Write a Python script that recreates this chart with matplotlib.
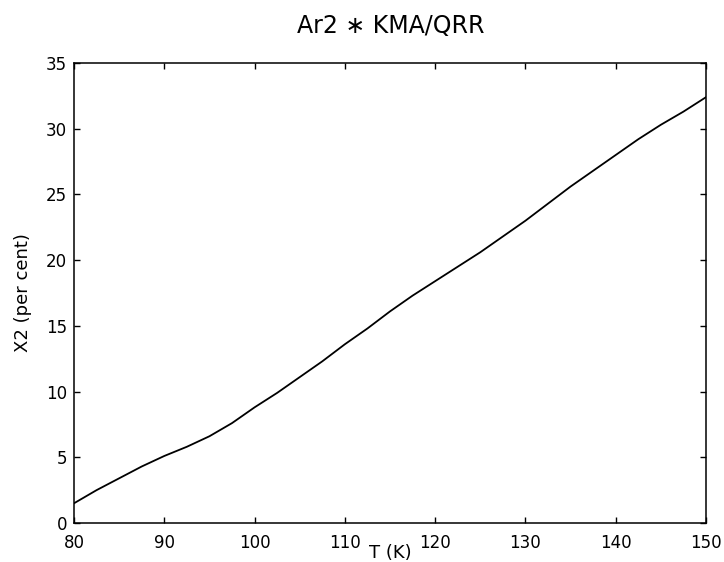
import matplotlib
matplotlib.use("Agg")
import matplotlib.pyplot as plt

T = [80, 82.5, 85, 87.5, 90, 92.5, 95, 97.5, 100, 102.5, 105, 107.5, 110, 112.5,
     115, 117.5, 120, 122.5, 125, 127.5, 130, 132.5, 135, 137.5, 140, 142.5, 145,
     147.5, 150]
X2 = [1.5, 2.5, 3.4, 4.3, 5.1, 5.8, 6.6, 7.6, 8.8, 9.9, 11.1, 12.3, 13.6, 14.8,
      16.1, 17.3, 18.4, 19.5, 20.6, 21.8, 23.0, 24.3, 25.6, 26.8, 28.0, 29.2, 30.3,
      31.3, 32.4]
xticks = [80, 90, 100, 110, 120, 130, 140, 150]
yticks = [0, 5, 10, 15, 20, 25, 30, 35]

fig = plt.figure(figsize=(7.24, 5.62), dpi=100)
ax = fig.add_axes([74/724, 1-523/562, (706-74)/724, (523-63)/562])
ax.plot(T, X2, color="black", lw=1.3)
ax.set_xlim(80, 150)
ax.set_ylim(0, 35)
ax.set_xticks(xticks)
ax.set_yticks(yticks)
ax.tick_params(direction="in", length=4, width=1, top=True, right=True,
               labelsize=12, colors="black")
ax.tick_params(axis="x", pad=8)
ax.tick_params(axis="y", pad=5)
for s in ax.spines.values():
    s.set_linewidth(1.1)
ax.set_xlabel("T (K)", fontsize=13, labelpad=-6)
ax.set_ylabel("X2 (per cent)", fontsize=13, labelpad=10)
fig.text(391/724, 1-26/562, "Ar2 \u2217 KMA/QRR", fontsize=17, ha="center", va="center")
fig.savefig("out.png", dpi=100)
